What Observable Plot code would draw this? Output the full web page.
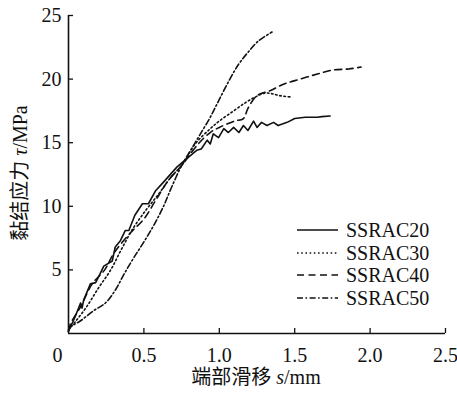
<!DOCTYPE html>
<html><head><meta charset="utf-8">
<script src="https://cdn.jsdelivr.net/npm/d3@7"></script>
<script src="https://cdn.jsdelivr.net/npm/@observablehq/plot@0.6"></script>
<style>body{margin:0;background:#fff}</style>
</head><body><div id="chart"></div>
<script>
// ---- data ----
const seriesNames = ["SSRAC20", "SSRAC30", "SSRAC40", "SSRAC50"];

const s20 = [0, 0.04, 0.08, 0.09, 0.1, 0.145, 0.18, 0.21, 0.234, 0.29, 0.31, 0.344, 0.377, 0.40, 0.44, 0.49, 0.53, 0.576, 0.63, 0.72, 0.80, 0.85, 0.88, 0.92, 0.94, 0.96, 0.995, 1.03, 1.06, 1.095, 1.13, 1.16, 1.19, 1.227, 1.25, 1.28, 1.316, 1.36, 1.39, 1.45, 1.50, 1.57, 1.65, 1.68, 1.735];
const t20 = [0.2, 1.2, 2.4, 2.0, 2.6, 3.9, 4.0, 4.7, 5.3, 5.7, 6.8, 7.3, 8.1, 8.1, 9.3, 10.2, 10.2, 11.2, 11.9, 13.1, 13.9, 14.4, 14.5, 15.2, 14.9, 15.7, 15.4, 16.1, 15.8, 16.2, 15.8, 16.35, 15.96, 16.7, 16.2, 16.6, 16.35, 16.6, 16.35, 16.6, 16.9, 17.0, 17.0, 17.05, 17.1];

const s30 = [0, 0.05, 0.12, 0.2, 0.28, 0.35, 0.43, 0.52, 0.6, 0.68, 0.75, 0.84, 0.94, 1.0, 1.095, 1.18, 1.24, 1.30, 1.35, 1.40, 1.47];
const t30 = [0.3, 1.0, 2.1, 3.6, 5.0, 6.6, 8.3, 9.8, 11.0, 12.3, 13.2, 14.9, 16.1, 16.7, 17.5, 18.2, 18.6, 18.9, 18.85, 18.7, 18.6];

const s40 = [0, 0.013, 0.08, 0.157, 0.24, 0.3, 0.41, 0.5, 0.58, 0.66, 0.75, 0.86, 0.94, 1.0, 1.1, 1.16, 1.19, 1.25, 1.34, 1.426, 1.536, 1.65, 1.745, 1.86, 1.94];
const t40 = [0.2, 0.76, 2.1, 3.9, 5.0, 6.3, 7.9, 9.0, 10.5, 12.0, 13.2, 14.9, 15.8, 16.2, 16.7, 16.9, 17.7, 18.7, 19.1, 19.6, 20.0, 20.4, 20.7, 20.8, 20.95];

const s50 = [0, 0.013, 0.08, 0.168, 0.245, 0.31, 0.37, 0.43, 0.5, 0.57, 0.63, 0.68, 0.75, 0.81, 0.87, 0.94, 1.0, 1.07, 1.13, 1.19, 1.26, 1.35];
const t50 = [0.2, 0.5, 1.0, 1.8, 2.4, 3.4, 4.7, 5.9, 7.2, 8.6, 10.0, 11.4, 13.2, 14.4, 15.6, 17.0, 18.4, 20.0, 21.2, 22.1, 23.0, 23.7];

const xTicks = [0, 0.5, 1, 1.5, 2, 2.5];
const xTickLabels = ["0", "0.5", "1.0", "1.5", "2.0", "2.5"];
const yTicks = [5, 10, 15, 20, 25];
const yTickLabels = ["5", "10", "15", "20", "25"];

// ---- build table ----
const allS = [s20, s30, s40, s50], allT = [t20, t30, t40, t50];
const rows = [];
seriesNames.forEach((name, k) => allS[k].forEach((s, i) => rows.push({series: name, s, t: allT[k][i]})));

const dashes = {SSRAC20: null, SSRAC30: "1.6,2.6", SSRAC40: "7,4.5", SSRAC50: "6,2.5,1.6,2.5"};
const curves = {SSRAC20: "linear", SSRAC30: "catmull-rom", SSRAC40: "catmull-rom", SSRAC50: "catmull-rom"};

const W = 457, H = 394, mL = 68, mR = 12, mT = 15, mB = 61;
const fw = W - mL - mR, fh = H - mT - mB;
const font = "'Liberation Serif', 'Times New Roman', 'Noto Sans CJK SC', serif";

const lineMarks = seriesNames.map(name => Plot.line(rows.filter(r => r.series === name), {
  x: "s", y: "t", stroke: "#111", strokeWidth: 1.6,
  strokeDasharray: dashes[name], curve: curves[name]
}));

const xLab = xTicks.map((v, i) => ({v, label: xTickLabels[i]}));
const yLab = yTicks.map((v, i) => ({v, label: yTickLabels[i]}));

const chart = Plot.plot({
  width: W, height: H,
  marginLeft: mL, marginRight: mR, marginTop: mT, marginBottom: mB,
  x: {domain: [0, 2.5], axis: null},
  y: {domain: [0, 25], axis: null},
  style: {fontFamily: font, fontSize: "20px", background: "#fff", color: "#111"},
  marks: [
    ...lineMarks,
    Plot.ruleX([0], {stroke: "#111", strokeWidth: 1.6}),
    Plot.ruleY([0], {stroke: "#111", strokeWidth: 1.6}),
    Plot.tickX(xTicks.slice(1), {x: d => d, stroke: "#111", strokeWidth: 1.3, insetTop: fh - 5}),
    Plot.tickY(yTicks, {y: d => d, stroke: "#111", strokeWidth: 1.3, insetRight: fw - 5}),
    Plot.text(xLab.slice(1), {x: "v", y: 0, text: "label", dy: 22,
      fontSize: 20, fill: "#111", letterSpacing: "0.5px"}),
    Plot.text(xLab.slice(0, 1), {x: "v", y: 0, text: "label", dy: 22, dx: -11,
      fontSize: 20, fill: "#111"}),
    Plot.text(yLab, {x: 0, y: "v", text: "label", dx: -7, textAnchor: "end",
      fontSize: 20, fill: "#111", letterSpacing: "0.5px"})
  ]
});
document.getElementById("chart").append(chart);

const svg = d3.select(chart);

// axis titles with italic symbols
const xt = svg.append("text").attr("x", 256).attr("y", 384).attr("text-anchor", "middle")
  .attr("font-family", font).attr("font-size", 20).attr("fill", "#111");
xt.append("tspan").text("端部滑移 ");
xt.append("tspan").attr("font-style", "italic").text("s");
xt.append("tspan").text("/mm");

const yt = svg.append("text").attr("transform", "translate(27,173) rotate(-90)").attr("text-anchor", "middle")
  .attr("font-family", font).attr("font-size", 20).attr("fill", "#111");
yt.append("tspan").text("黏结应力 ");
yt.append("tspan").attr("font-style", "italic").text("τ");
yt.append("tspan").text("/MPa");

// legend
const legY = [230, 253, 275, 298];
const leg = svg.append("g");
seriesNames.forEach((name, i) => {
  leg.append("line").attr("x1", 297).attr("x2", 338).attr("y1", legY[i]).attr("y2", legY[i])
    .attr("stroke", "#111").attr("stroke-width", 1.6).attr("stroke-dasharray", dashes[name]);
  leg.append("text").attr("x", 346).attr("y", legY[i]).attr("dy", "0.35em").attr("text-anchor", "start")
    .attr("font-family", font).attr("font-size", 20).attr("fill", "#111").text(name);
});
</script>
</body></html>
